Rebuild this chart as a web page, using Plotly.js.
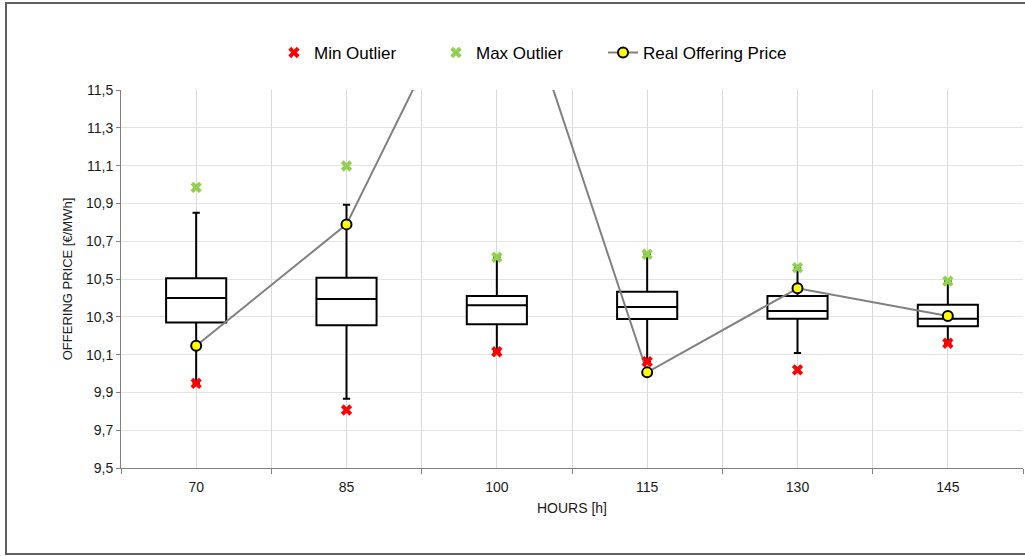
<!DOCTYPE html>
<html>
<head>
<meta charset="utf-8">
<script src="https://cdn.plot.ly/plotly-3.0.1.min.js"></script>
<style>
  html, body { margin: 0; padding: 0; background: #fff; overflow: hidden; }
  #chart { width: 1025px; height: 556px; }
  #frame { position: absolute; left: 5px; top: 2px; width: 1100px; height: 549px;
           border: 2px solid #5f5f5f; pointer-events: none; }
</style>
</head>
<body>
<div id="chart"></div>
<div id="frame"></div>
<script>
// ---- data ----
const hours = [70, 85, 100, 115, 130, 145];
const hourLabels = ["70", "85", "100", "115", "130", "145"];
const q1 = [10.270, 10.255, 10.260, 10.288, 10.290, 10.250];
const median = [10.400, 10.394, 10.361, 10.352, 10.331, 10.290];
const q3 = [10.504, 10.507, 10.410, 10.433, 10.410, 10.364];
const lowerWhisker = [9.948, 9.867, 10.115, 10.063, 10.108, 10.160];
const upperWhisker = [10.851, 10.893, 10.615, 10.631, 10.560, 10.489];
const minOutlier = [9.948, 9.807, 10.115, 10.063, 10.019, 10.160];
const maxOutlier = [10.985, 11.098, 10.615, 10.631, 10.560, 10.489];
const realPrice = [10.147, 10.789, 12.400, 10.006, 10.451, 10.304];

const step = hours[1] - hours[0];

const traces = [
  {
    type: "box",
    x: hours,
    q1: q1, median: median, q3: q3,
    lowerfence: lowerWhisker, upperfence: upperWhisker,
    width: step * 0.4,
    whiskerwidth: 0.12,
    boxpoints: false,
    fillcolor: "#ffffff",
    line: { color: "#000000", width: 2 },
    showlegend: false,
    hoverinfo: "skip"
  },
  {
    type: "scatter", mode: "lines+markers",
    name: "Real Offering Price",
    x: hours, y: realPrice,
    line: { color: "#808080", width: 2 },
    marker: { symbol: "circle", size: 10, color: "#ffff00", line: { color: "#000000", width: 2 } },
    legend: "legend3"
  },
  {
    type: "scatter", mode: "markers",
    name: "Min Outlier",
    x: hours, y: minOutlier,
    marker: { symbol: "x", size: 10, color: "#ff0000" },
    legend: "legend"
  },
  {
    type: "scatter", mode: "markers",
    name: "Max Outlier",
    x: hours, y: maxOutlier,
    marker: { symbol: "x", size: 10, color: "#92d050" },
    legend: "legend2"
  }
];

function legendAt(xFrac) {
  return {
    orientation: "h", x: xFrac, xanchor: "left", y: 1.098, yanchor: "middle",
    font: { size: 17, color: "#000" }, bgcolor: "rgba(0,0,0,0)"
  };
}

const layout = {
  width: 1025, height: 556,
  margin: { l: 121, r: 2, t: 90, b: 88 },
  paper_bgcolor: "#ffffff", plot_bgcolor: "#ffffff",
  separators: ",.",
  font: { family: "Liberation Sans, Arial, sans-serif", size: 14, color: "#1a1a1a" },
  showlegend: true,
  legend: legendAt(0.1696),
  legend2: legendAt(0.3492),
  legend3: legendAt(0.5344),
  xaxis: {
    type: "linear",
    range: [hours[0] - step / 2, hours[hours.length - 1] + step / 2],
    tickmode: "array", tickvals: hours, ticktext: hourLabels,
    ticks: "", showgrid: true, gridcolor: "#d9d9d9", gridwidth: 1,
    ticklabelstandoff: 6,
    zeroline: false,
    showline: true, linecolor: "#808080", linewidth: 1,
    minor: { tick0: hours[0] - step / 2, dtick: step, ticks: "outside", ticklen: 5,
             tickcolor: "#808080", showgrid: true, gridcolor: "#d9d9d9", gridwidth: 1 },
    title: { text: "HOURS [h]", font: { family: "Liberation Sans Narrow, Liberation Sans, sans-serif", size: 14, color: "#1a1a1a" }, standoff: 9 },
    tickfont: { size: 14 }
  },
  yaxis: {
    range: [9.5, 11.5], tick0: 9.5, dtick: 0.2, tickformat: ".1f",
    ticks: "outside", ticklen: 4, tickcolor: "#808080",
    showgrid: true, gridcolor: "#e3e3e3", gridwidth: 1,
    zeroline: false,
    showline: true, linecolor: "#808080", linewidth: 1,
    title: { text: "OFFERING PRICE [€/MWh]", font: { family: "Liberation Sans Narrow, Liberation Sans, sans-serif", size: 13, color: "#1a1a1a" }, standoff: 10 },
    tickfont: { size: 14 }
  }
};

Plotly.newPlot("chart", traces, layout, { displayModeBar: false, staticPlot: true });
</script>
</body>
</html>
